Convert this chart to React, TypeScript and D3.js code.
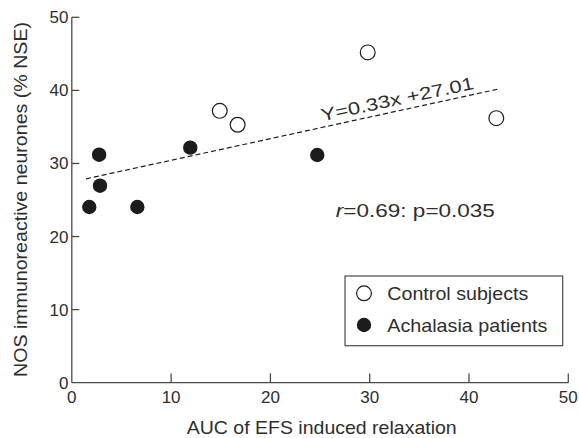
import React from "react";
import * as d3 from "d3";

const controlX = [14.9, 16.7, 29.8, 42.75];
const controlY = [37.2, 35.3, 45.2, 36.2];
const patientX = [2.75, 2.84, 1.76, 6.6, 11.93, 24.72];
const patientY = [31.2, 26.96, 24.04, 24.04, 32.16, 31.16];
const fitX = [1.43, 42.85];
const fitY = [27.9, 40.15];
const xTicks = [0, 10, 20, 30, 40, 50];
const yTicks = [0, 10, 20, 30, 40, 50];
const xTitle = "AUC of EFS induced relaxation";
const yTitle = "NOS immunoreactive neurones (% NSE)";
const eqText = "Y=0.33x +27.01";
const legendLabels = ["Control subjects", "Achalasia patients"];

const W = 579;
const H = 438;
const FONT = "'Liberation Sans', Arial, sans-serif";
const TEXT = "#2e2e2e";
const LINE = "#4a4a4a";
const FILL = "#1c1c1c";

export default function App() {
  const x = d3.scaleLinear().domain([0, 50]).range([71.8, 568.3]);
  const y = d3.scaleLinear().domain([0, 50]).range([382.7, 17.3]);
  const line = d3
    .line<number>()
    .x((_, i) => x(fitX[i]))
    .y((d) => y(d));

  const eqX = x(32.9);
  const eqY = y(38.0);
  const rX = x(34.6);
  const rY = y(22.7);

  const lx = 345, ly = 276, lw = 217.7, lh = 69.7;

  return (
    <svg
      width={W}
      height={H}
      style={{ position: "absolute", left: 0, top: 0, background: "#fff" }}
      fontFamily={FONT}
    >
      <rect x={0} y={0} width={W} height={H} fill="#fff" />
      {/* axes */}
      <line x1={x(0)} x2={x(0)} y1={y(0)} y2={y(50)} stroke={LINE} strokeWidth={1.3} />
      <line x1={x(0)} x2={x(50)} y1={y(0)} y2={y(0)} stroke={LINE} strokeWidth={1.3} />
      {xTicks.map((t) => (
        <g key={"xt" + t}>
          {t !== 0 && (
            <line x1={x(t)} x2={x(t)} y1={y(0)} y2={y(0) - 9.3} stroke={LINE} strokeWidth={1.3} />
          )}
          <text x={x(t)} y={403.3} textAnchor="middle" fontSize={17} fill={TEXT}>
            {t}
          </text>
        </g>
      ))}
      {yTicks.map((t) => (
        <g key={"yt" + t}>
          {t !== 0 && (
            <line x1={x(0)} x2={x(0) + 7.5} y1={y(t)} y2={y(t)} stroke={LINE} strokeWidth={1.3} />
          )}
          <text x={68.5} y={y(t) + 6} textAnchor="end" fontSize={17} fill={TEXT}>
            {t}
          </text>
        </g>
      ))}
      {/* titles */}
      <text x={321.7} y={433.5} textAnchor="middle" fontSize={18.6} fill={TEXT} textLength={270} lengthAdjust="spacingAndGlyphs">
        {xTitle}
      </text>
      <text
        transform={`translate(27,199.5) rotate(-90)`}
        textAnchor="middle"
        fontSize={18.6}
        fill={TEXT}
        textLength={355}
        lengthAdjust="spacingAndGlyphs"
      >
        {yTitle}
      </text>
      {/* regression line */}
      <path d={line(fitY) || ""} fill="none" stroke={FILL} strokeWidth={1.2} strokeDasharray="5,3" />
      <text
        transform={`translate(${eqX},${eqY}) rotate(-12)`}
        textAnchor="middle"
        fontSize={17.5}
        fill={TEXT}
        textLength={156}
        lengthAdjust="spacingAndGlyphs"
      >
        {eqText}
      </text>
      <text x={rX} y={rY} textAnchor="middle" fontSize={17.5} fill={TEXT} textLength={159} lengthAdjust="spacingAndGlyphs">
        <tspan fontStyle="italic">r</tspan>=0.69: p=0.035
      </text>
      {/* points */}
      {controlX.map((v, i) => (
        <circle key={"c" + i} cx={x(v)} cy={y(controlY[i])} r={7.4} fill="#fff" stroke={FILL} strokeWidth={1.2} />
      ))}
      {patientX.map((v, i) => (
        <circle key={"p" + i} cx={x(v)} cy={y(patientY[i])} r={7.2} fill={FILL} />
      ))}
      {/* legend */}
      <rect x={lx} y={ly} width={lw} height={lh} fill="#fff" stroke={LINE} strokeWidth={1.2} />
      <circle cx={364} cy={293.3} r={7.4} fill="#fff" stroke={FILL} strokeWidth={1.2} />
      <circle cx={364} cy={325} r={7.2} fill={FILL} />
      <text x={387.3} y={299.5} fontSize={18.5} fill={TEXT} textLength={141} lengthAdjust="spacingAndGlyphs">
        {legendLabels[0]}
      </text>
      <text x={387.3} y={331.5} fontSize={18.5} fill={TEXT} textLength={160} lengthAdjust="spacingAndGlyphs">
        {legendLabels[1]}
      </text>
    </svg>
  );
}
